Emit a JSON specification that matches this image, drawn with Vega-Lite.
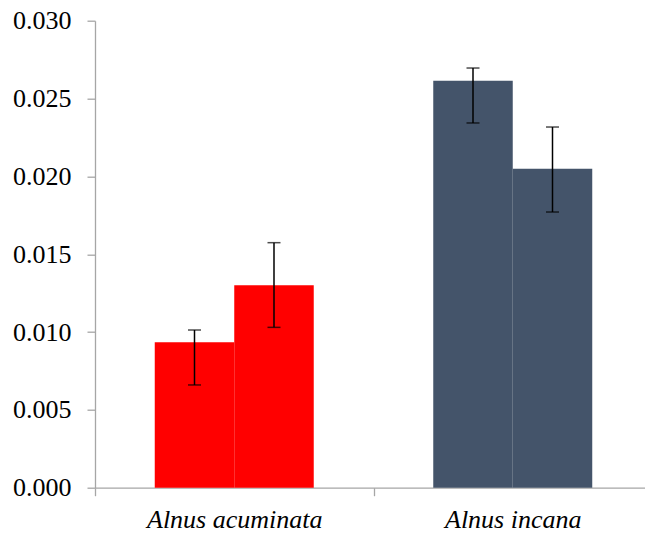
{
  "$schema": "https://vega.github.io/schema/vega-lite/v6.json",
  "autosize": "none",
  "width": 550,
  "height": 467,
  "padding": {"left": 95, "top": 20.7, "right": 0, "bottom": 45.3},
  "background": "white",
  "config": {
    "view": {"stroke": null},
    "font": "Liberation Serif, Times New Roman, serif"
  },
  "data": {
    "values": [
      {"species": "Alnus acuminata", "group": "1", "mean": 0.00934, "lower": 0.0066, "upper": 0.01013},
      {"species": "Alnus acuminata", "group": "2", "mean": 0.0130, "lower": 0.0103, "upper": 0.01574},
      {"species": "Alnus incana", "group": "1", "mean": 0.02615, "lower": 0.02343, "upper": 0.02696},
      {"species": "Alnus incana", "group": "2", "mean": 0.02049, "lower": 0.01771, "upper": 0.02317}
    ]
  },
  "encoding": {
    "x": {
      "field": "species",
      "type": "nominal",
      "title": null,
      "scale": {"range": [0, 557], "paddingInner": 0, "paddingOuter": 0},
      "axis": {
        "labelAngle": 0,
        "labelFont": "Liberation Serif, Times New Roman, serif",
        "labelFontStyle": "italic",
        "labelFontSize": 26,
        "labelColor": "#000000",
        "labelPadding": 10.5,
        "labelLimit": 0,
        "tickBand": "extent",
        "tickSize": 8,
        "tickColor": "#A6A6A6",
        "domainColor": "#A6A6A6",
        "domainWidth": 1.3,
        "tickWidth": 1.3,
        "grid": false
      }
    },
    "xOffset": {
      "field": "group",
      "type": "nominal",
      "scale": {"paddingInner": 0, "paddingOuter": 0.7516}
    }
  },
  "layer": [
    {
      "mark": {"type": "bar"},
      "encoding": {
        "y": {
          "field": "mean",
          "type": "quantitative",
          "title": null,
          "scale": {"domain": [0, 0.03], "nice": false},
          "axis": {
            "values": [0, 0.005, 0.01, 0.015, 0.02, 0.025, 0.03],
            "format": ".3f",
            "labelFont": "Liberation Serif, Times New Roman, serif",
            "labelFontSize": 26,
            "labelColor": "#000000",
            "labelPadding": 16,
            "tickSize": 8,
            "tickColor": "#A6A6A6",
            "domainColor": "#A6A6A6",
            "domainWidth": 1.3,
            "tickWidth": 1.3,
            "grid": false
          }
        },
        "color": {
          "field": "species",
          "type": "nominal",
          "scale": {"range": ["#FF0000", "#44546A"]},
          "legend": null
        }
      }
    },
    {
      "mark": {"type": "rule", "color": "#000000", "strokeWidth": 1.5},
      "encoding": {
        "y": {"field": "lower", "type": "quantitative"},
        "y2": {"field": "upper"}
      }
    },
    {
      "mark": {"type": "tick", "orient": "horizontal", "color": "#000000", "size": 13, "thickness": 1.5},
      "encoding": {
        "y": {"field": "upper", "type": "quantitative"}
      }
    },
    {
      "mark": {"type": "tick", "orient": "horizontal", "color": "#000000", "size": 13, "thickness": 1.5},
      "encoding": {
        "y": {"field": "lower", "type": "quantitative"}
      }
    }
  ]
}
